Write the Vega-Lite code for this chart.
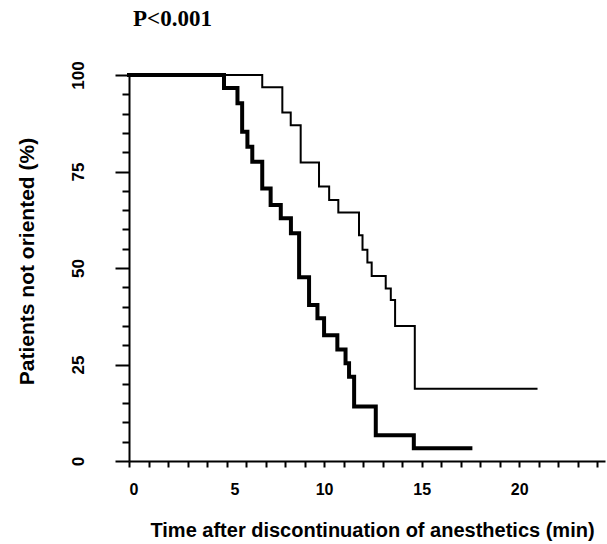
{
  "$schema": "https://vega.github.io/schema/vega-lite/v6.json",
  "autosize": "none",
  "padding": {"left": 129, "top": 75, "right": 2, "bottom": 83},
  "width": 476,
  "height": 386,
  "background": "white",
  "title": {"text": "P<0.001", "anchor": "start", "frame": "group", "font": "Liberation Serif", "fontWeight": "bold", "fontSize": 23, "color": "black", "offset": 30, "dx": 4},
  "data": {"values": [
    {"group": "fast", "time": 0, "pct": 100},
    {"group": "fast", "time": 4.87, "pct": 96.6},
    {"group": "fast", "time": 5.56, "pct": 92.7},
    {"group": "fast", "time": 5.8, "pct": 85.3},
    {"group": "fast", "time": 6.07, "pct": 81.4},
    {"group": "fast", "time": 6.32, "pct": 77.5},
    {"group": "fast", "time": 6.83, "pct": 70.6},
    {"group": "fast", "time": 7.26, "pct": 66.3},
    {"group": "fast", "time": 7.78, "pct": 62.9},
    {"group": "fast", "time": 8.3, "pct": 59.0},
    {"group": "fast", "time": 8.72, "pct": 47.6},
    {"group": "fast", "time": 9.23, "pct": 40.4},
    {"group": "fast", "time": 9.66, "pct": 37.0},
    {"group": "fast", "time": 10.0, "pct": 32.6},
    {"group": "fast", "time": 10.68, "pct": 28.9},
    {"group": "fast", "time": 11.1, "pct": 25.3},
    {"group": "fast", "time": 11.28, "pct": 21.8},
    {"group": "fast", "time": 11.54, "pct": 14.1},
    {"group": "fast", "time": 12.65, "pct": 6.7},
    {"group": "fast", "time": 14.6, "pct": 3.3},
    {"group": "fast", "time": 17.5, "pct": 3.3},
    {"group": "slow", "time": 0, "pct": 100},
    {"group": "slow", "time": 6.83, "pct": 96.8},
    {"group": "slow", "time": 7.86, "pct": 90.3},
    {"group": "slow", "time": 8.29, "pct": 87.0},
    {"group": "slow", "time": 8.8, "pct": 77.3},
    {"group": "slow", "time": 9.74, "pct": 71.1},
    {"group": "slow", "time": 10.26, "pct": 67.6},
    {"group": "slow", "time": 10.73, "pct": 64.4},
    {"group": "slow", "time": 11.79, "pct": 58.5},
    {"group": "slow", "time": 11.97, "pct": 54.7},
    {"group": "slow", "time": 12.22, "pct": 51.4},
    {"group": "slow", "time": 12.44, "pct": 47.9},
    {"group": "slow", "time": 13.16, "pct": 44.7},
    {"group": "slow", "time": 13.42, "pct": 41.7},
    {"group": "slow", "time": 13.64, "pct": 35.0},
    {"group": "slow", "time": 14.65, "pct": 18.7},
    {"group": "slow", "time": 20.89, "pct": 18.7}
  ]},
  "mark": {"type": "line", "interpolate": "step-after", "strokeCap": "square", "strokeJoin": "miter"},
  "encoding": {
    "x": {
      "field": "time", "type": "quantitative",
      "scale": {"domain": [0, 24.4], "nice": false, "zero": false},
      "axis": {
        "title": "Time after discontinuation of anesthetics (min)",
        "values": [0,1,2,3,4,5,6,7,8,9,10,11,12,13,14,15,16,17,18,19,20,21,22,23,24],
        "labelExpr": "datum.value % 5 === 0 ? datum.label : ''",
        "labelOffset": {"expr": "datum.value === 5 ? 8 : 0"},
        "grid": false,
        "domainColor": "black", "domainWidth": 2,
        "tickColor": "black", "tickWidth": 2, "tickSize": 6,
        "labelFont": "Liberation Sans", "labelFontWeight": "bold", "labelFontSize": 16, "labelColor": "black",
        "labelPadding": 14,
        "titleFont": "Liberation Sans", "titleFontWeight": "bold", "titleFontSize": 20, "titleColor": "black",
        "titlePadding": 23, "titleX": 243
      }
    },
    "y": {
      "field": "pct", "type": "quantitative",
      "scale": {"domain": [0, 100], "nice": false},
      "axis": {
        "title": "Patients not oriented (%)",
        "values": [0,5,10,15,20,25,30,35,40,45,50,55,60,65,70,75,80,85,90,95,100],
        "labelExpr": "datum.value % 25 === 0 ? datum.label : ''",
        "tickSize": {"expr": "datum.value % 25 === 0 ? 14 : 7"},
        "grid": false,
        "domainColor": "black", "domainWidth": 2,
        "tickColor": "black", "tickWidth": 2,
        "labelAngle": 270, "labelAlign": "center", "labelBaseline": "bottom",
        "labelFont": "Liberation Sans", "labelFontWeight": "bold", "labelFontSize": 17, "labelColor": "black",
        "labelPadding": 28,
        "titleFont": "Liberation Sans", "titleFontWeight": "bold", "titleFontSize": 21, "titleColor": "black",
        "titlePadding": 32, "titleY": 186
      }
    },
    "color": {"field": "group", "type": "nominal", "scale": {"domain": ["fast", "slow"], "range": ["black", "black"]}, "legend": null},
    "strokeWidth": {"field": "group", "type": "nominal", "scale": {"domain": ["fast", "slow"], "range": [4, 2]}, "legend": null}
  },
  "config": {"view": {"stroke": null}}
}
